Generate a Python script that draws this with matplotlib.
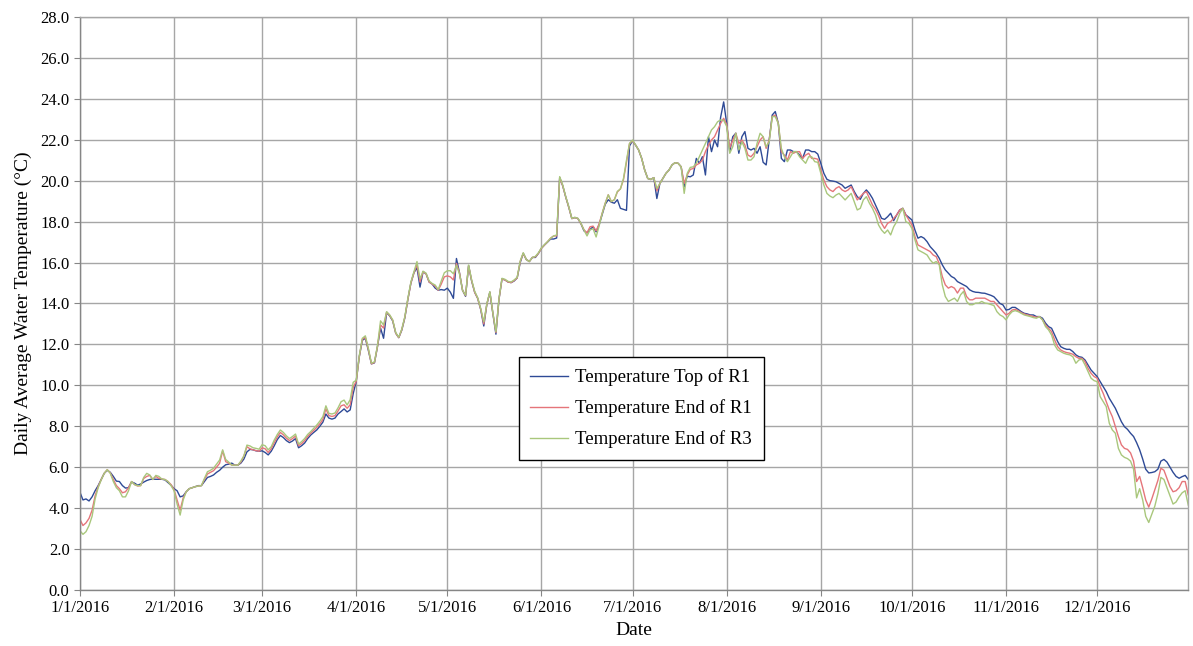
import numpy as np
import pandas as pd
import matplotlib
matplotlib.use("Agg")
import matplotlib.pyplot as plt
import matplotlib.dates as mdates
from matplotlib.ticker import FormatStrFormatter, FuncFormatter

# daily values for 2016 (leap year, 366 days)
dates = pd.date_range("2016-01-01", "2016-12-31", freq="D")

top_r1 = [
    4.78, 4.40, 4.45, 4.35, 4.55, 4.85, 5.10, 5.40, 5.70, 5.85, 5.75, 5.55, 5.32, 5.30, 5.10, 4.98, 5.00, 5.28, 5.22, 5.12, 5.18, 5.27, 5.35, 5.40, 5.42, 5.41, 5.41, 5.41, 5.38, 5.25, 5.12,
    4.95, 4.85, 4.55, 4.60, 4.80, 4.95, 5.00, 5.05, 5.10, 5.10, 5.30, 5.50, 5.55, 5.62, 5.75, 5.85, 6.00, 6.12, 6.15, 6.20, 6.10, 6.10, 6.20, 6.40, 6.75, 6.87, 6.85, 6.80, 6.78,
    6.80, 6.72, 6.60, 6.78, 7.05, 7.35, 7.55, 7.45, 7.30, 7.20, 7.28, 7.40, 6.95, 7.05, 7.18, 7.40, 7.57, 7.70, 7.82, 8.00, 8.20, 8.60, 8.40, 8.35, 8.40, 8.60, 8.72, 8.85, 8.70, 8.80, 9.60,
    10.20, 11.40, 12.20, 12.30, 11.70, 11.05, 11.10, 11.90, 12.80, 12.30, 13.55, 13.40, 13.15, 12.55, 12.33, 12.70, 13.30, 14.20, 15.00, 15.50, 15.75, 14.80, 15.55, 15.45, 15.05, 14.95, 14.75, 14.65, 14.68, 14.65,
    14.75, 14.55, 14.25, 16.20, 15.50, 14.65, 14.35, 15.85, 15.10, 14.55, 14.25, 13.70, 12.90, 13.95, 14.55, 13.50, 12.50, 14.20, 15.20, 15.15, 15.05, 15.02, 15.10, 15.25, 16.00, 16.45, 16.15, 16.05, 16.25, 16.25, 16.45,
    16.70, 16.86, 17.00, 17.15, 17.15, 17.20, 20.15, 19.75, 19.20, 18.70, 18.15, 18.20, 18.15, 17.90, 17.55, 17.45, 17.62, 17.75, 17.50, 17.85, 18.35, 18.85, 19.07, 18.95, 18.90, 19.07, 18.65, 18.60, 18.55, 21.70,
    21.95, 21.74, 21.50, 21.09, 20.52, 20.11, 20.06, 20.15, 19.13, 19.87, 20.11, 20.36, 20.52, 20.77, 20.88, 20.85, 20.68, 19.70, 20.22, 20.19, 20.28, 21.09, 20.85, 21.17, 20.28, 22.15, 21.42, 21.99, 21.66, 23.10, 23.85,
    22.80, 21.42, 22.15, 22.32, 21.34, 22.15, 22.40, 21.58, 21.50, 21.58, 21.34, 21.66, 20.90, 20.77, 21.99, 23.21, 23.38, 22.80, 21.09, 20.93, 21.50, 21.50, 21.42, 21.42, 21.25, 21.09, 21.50, 21.50, 21.42, 21.42, 21.30,
    20.85, 20.36, 20.07, 20.00, 19.98, 19.95, 19.87, 19.79, 19.63, 19.71, 19.79, 19.47, 19.22, 19.09, 19.38, 19.55, 19.38, 19.14, 18.82, 18.49, 18.16, 18.11, 18.24, 18.41, 18.05, 18.33, 18.57, 18.65, 18.33, 18.21,
    18.08, 17.59, 17.19, 17.27, 17.19, 17.02, 16.78, 16.62, 16.45, 16.21, 15.89, 15.64, 15.48, 15.32, 15.24, 15.07, 14.99, 14.91, 14.83, 14.67, 14.59, 14.55, 14.54, 14.51, 14.50, 14.45, 14.40, 14.33, 14.17, 14.00, 13.93,
    13.68, 13.71, 13.81, 13.81, 13.71, 13.60, 13.52, 13.49, 13.44, 13.44, 13.36, 13.36, 13.28, 13.04, 12.87, 12.79, 12.46, 12.14, 11.89, 11.81, 11.76, 11.76, 11.65, 11.49, 11.40, 11.37, 11.24, 11.00, 10.75, 10.59,
    10.43, 10.18, 9.94, 9.69, 9.37, 9.12, 8.88, 8.55, 8.22, 7.98, 7.85, 7.66, 7.50, 7.20, 6.85, 6.40, 5.90, 5.72, 5.74, 5.78, 5.90, 6.30, 6.38, 6.25, 6.00, 5.75, 5.55, 5.46, 5.54, 5.60, 5.40,
]

end_r1 = [
    3.45, 3.15, 3.28, 3.50, 3.90, 4.60, 5.05, 5.40, 5.70, 5.88, 5.72, 5.40, 5.10, 4.95, 4.75, 4.80, 5.00, 5.30, 5.15, 5.08, 5.10, 5.45, 5.55, 5.60, 5.40, 5.55, 5.45, 5.42, 5.40, 5.30, 5.15,
    4.90, 4.40, 3.90, 4.50, 4.80, 4.95, 5.00, 5.05, 5.08, 5.10, 5.40, 5.67, 5.75, 5.83, 6.00, 6.19, 6.80, 6.27, 6.20, 6.10, 6.10, 6.10, 6.25, 6.55, 7.00, 6.90, 6.85, 6.81, 6.78,
    6.95, 6.90, 6.72, 6.90, 7.20, 7.48, 7.70, 7.58, 7.42, 7.30, 7.40, 7.52, 7.05, 7.15, 7.30, 7.50, 7.66, 7.80, 7.95, 8.12, 8.33, 8.85, 8.52, 8.48, 8.52, 8.75, 9.00, 9.05, 8.88, 9.05, 9.90,
    10.20, 11.40, 12.25, 12.35, 11.75, 11.05, 11.12, 11.90, 12.95, 12.80, 13.58, 13.42, 13.18, 12.55, 12.33, 12.72, 13.32, 14.20, 15.00, 15.50, 15.90, 15.05, 15.55, 15.45, 15.05, 14.95, 14.85, 14.65, 14.95, 15.30,
    15.35, 15.30, 15.15, 15.96, 15.50, 14.65, 14.38, 15.85, 15.12, 14.55, 14.25, 13.72, 13.00, 13.95, 14.55, 13.52, 12.58, 14.20, 15.20, 15.15, 15.05, 15.02, 15.12, 15.25, 16.05, 16.45, 16.15, 16.05, 16.25, 16.28, 16.45,
    16.70, 16.86, 17.02, 17.19, 17.30, 17.30, 20.15, 19.75, 19.20, 18.70, 18.15, 18.20, 18.15, 17.90, 17.60, 17.45, 17.75, 17.78, 17.55, 17.90, 18.41, 18.90, 19.31, 18.98, 19.07, 19.45, 19.60, 20.05, 20.90, 21.82,
    21.95, 21.74, 21.50, 21.09, 20.52, 20.11, 20.06, 20.15, 19.50, 19.87, 20.11, 20.36, 20.52, 20.77, 20.88, 20.85, 20.68, 19.87, 20.28, 20.55, 20.60, 20.77, 20.85, 21.01, 21.42, 21.74, 21.99, 22.15, 22.48, 22.80, 23.05,
    22.75, 21.60, 21.99, 22.32, 21.82, 21.99, 21.74, 21.25, 21.17, 21.34, 21.66, 21.99, 22.15, 21.58, 21.99, 23.13, 23.21, 22.80, 21.42, 21.25, 21.01, 21.42, 21.34, 21.42, 21.42, 21.09, 21.25, 21.34, 21.09, 21.09, 21.05,
    20.52, 20.03, 19.71, 19.55, 19.47, 19.63, 19.71, 19.55, 19.47, 19.55, 19.71, 19.38, 19.06, 19.22, 19.38, 19.47, 19.14, 18.82, 18.60, 18.30, 17.92, 17.67, 17.92, 18.00, 18.16, 18.33, 18.57, 18.65, 18.33, 18.08,
    17.84, 17.27, 16.86, 16.78, 16.70, 16.62, 16.54, 16.37, 16.29, 15.95, 15.32, 14.91, 14.75, 14.83, 14.75, 14.51, 14.75, 14.75, 14.34, 14.18, 14.18, 14.26, 14.26, 14.26, 14.26, 14.18, 14.10, 14.10, 13.93, 13.77, 13.60,
    13.44, 13.52, 13.68, 13.71, 13.65, 13.55, 13.49, 13.44, 13.41, 13.36, 13.33, 13.36, 13.20, 12.95, 12.79, 12.62, 12.22, 11.89, 11.73, 11.65, 11.60, 11.57, 11.52, 11.40, 11.32, 11.32, 11.16, 10.83, 10.59, 10.43,
    10.35, 9.94, 9.61, 9.20, 8.80, 8.47, 7.98, 7.50, 7.09, 6.92, 6.87, 6.70, 6.30, 5.30, 5.55, 5.00, 4.40, 4.05, 4.45, 4.90, 5.35, 5.95, 5.85, 5.45, 5.05, 4.80, 4.85, 5.00, 5.30, 5.30, 4.65,
]

end_r3 = [
    2.90, 2.72, 2.85, 3.15, 3.60, 4.45, 5.00, 5.38, 5.70, 5.88, 5.70, 5.30, 5.00, 4.85, 4.55, 4.55, 4.85, 5.30, 5.15, 5.10, 5.10, 5.50, 5.70, 5.62, 5.40, 5.60, 5.55, 5.42, 5.40, 5.30, 5.10,
    4.85, 4.20, 3.66, 4.40, 4.80, 4.95, 5.00, 5.05, 5.08, 5.10, 5.45, 5.78, 5.85, 5.95, 6.15, 6.35, 6.85, 6.38, 6.25, 6.10, 6.10, 6.10, 6.30, 6.55, 7.08, 7.04, 6.95, 6.92, 6.88,
    7.10, 7.05, 6.85, 7.00, 7.33, 7.60, 7.82, 7.70, 7.53, 7.40, 7.50, 7.62, 7.13, 7.25, 7.40, 7.60, 7.74, 7.90, 8.06, 8.25, 8.47, 9.00, 8.63, 8.60, 8.65, 8.90, 9.20, 9.28, 9.04, 9.30, 10.15,
    10.25, 11.45, 12.30, 12.42, 11.80, 11.08, 11.15, 11.95, 13.15, 12.95, 13.60, 13.45, 13.20, 12.58, 12.35, 12.75, 13.35, 14.25, 15.05, 15.55, 16.05, 15.20, 15.58, 15.48, 15.10, 14.98, 14.90, 14.68, 15.10, 15.50,
    15.60, 15.60, 15.45, 15.88, 15.45, 14.65, 14.40, 15.88, 15.15, 14.60, 14.28, 13.75, 13.10, 13.98, 14.58, 13.55, 12.62, 14.22, 15.23, 15.18, 15.08, 15.05, 15.15, 15.28, 16.08, 16.48, 16.15, 16.05, 16.25, 16.30, 16.48,
    16.72, 16.88, 17.02, 17.19, 17.30, 17.35, 20.20, 19.79, 19.22, 18.73, 18.16, 18.21, 18.16, 17.92, 17.59, 17.30, 17.60, 17.65, 17.25, 17.80, 18.41, 18.90, 19.31, 18.98, 19.07, 19.48, 19.60, 20.10, 21.00, 21.82,
    21.99, 21.74, 21.50, 21.09, 20.52, 20.11, 20.06, 20.15, 19.62, 19.87, 20.11, 20.36, 20.52, 20.77, 20.88, 20.85, 20.68, 19.38, 20.36, 20.65, 20.68, 20.85, 21.17, 21.50, 21.82, 22.15, 22.48, 22.64, 22.88, 22.97, 22.95,
    22.65, 21.34, 21.66, 22.32, 21.50, 21.90, 21.58, 21.01, 21.01, 21.17, 21.82, 22.32, 22.15, 21.66, 21.90, 23.13, 23.13, 22.80, 21.58, 21.17, 20.93, 21.17, 21.42, 21.42, 21.17, 21.01, 20.85, 21.17, 21.17, 20.93, 20.90,
    20.36, 19.79, 19.38, 19.25, 19.17, 19.30, 19.38, 19.22, 19.06, 19.22, 19.38, 18.98, 18.57, 18.65, 19.06, 19.22, 18.90, 18.65, 18.33, 17.84, 17.59, 17.43, 17.59, 17.35, 17.75, 18.00, 18.41, 18.65, 18.00, 17.92,
    17.67, 17.11, 16.62, 16.54, 16.46, 16.37, 16.13, 15.97, 16.05, 15.89, 14.91, 14.34, 14.10, 14.18, 14.26, 14.10, 14.42, 14.59, 14.10, 13.94, 13.94, 14.02, 14.02, 14.10, 14.02, 14.00, 13.95, 13.90, 13.60, 13.44, 13.36,
    13.20, 13.44, 13.60, 13.65, 13.60, 13.52, 13.44, 13.40, 13.36, 13.31, 13.28, 13.36, 13.20, 12.87, 12.71, 12.46, 11.97, 11.73, 11.65, 11.57, 11.52, 11.49, 11.40, 11.08, 11.24, 11.28, 11.00, 10.67, 10.35, 10.23,
    10.18, 9.45, 9.20, 8.96, 8.15, 7.82, 7.66, 6.92, 6.60, 6.48, 6.42, 6.30, 5.90, 4.50, 4.95, 4.40, 3.60, 3.30, 3.70, 4.10, 4.70, 5.50, 5.40, 5.00, 4.60, 4.20, 4.30, 4.55, 4.75, 4.85, 4.15,
]

series = [top_r1, end_r1, end_r3]
labels = ["Temperature Top of R1", "Temperature End of R1", "Temperature End of R3"]
colors = ["#2E4A96", "#E5757A", "#A9C77C"]

plt.rcParams["font.family"] = ["Liberation Serif", "DejaVu Serif"]

fig = plt.figure(figsize=(11.93, 6.46), dpi=100)
ax = fig.add_axes([0.067, 0.0867, 0.929, 0.887])

# series drawn in order, so the R3 line ends up on top
for vals, lab, col in zip(series, labels, colors):
    ax.plot(dates, vals, color=col, lw=1.0, label=lab)

ax.set_xlim(dates[0], dates[-1])
ax.set_ylim(0, 28)
ax.set_yticks(np.arange(0, 28.1, 2))
ax.yaxis.set_major_formatter(FormatStrFormatter("%.1f"))
ax.xaxis.set_major_locator(mdates.MonthLocator())

def date_fmt(x, pos):
    d = mdates.num2date(x)
    return f"{d.month}/{d.day}/{d.year}"

ax.xaxis.set_major_formatter(FuncFormatter(date_fmt))

ax.grid(True, color="#A6A6A6", lw=1.0)
ax.set_axisbelow(True)
for s in ax.spines.values():
    s.set_color("#A6A6A6")
    s.set_linewidth(1.0)
ax.spines["left"].set_color("#868686")
ax.spines["bottom"].set_color("#868686")
ax.tick_params(axis="both", labelsize=12, colors="black", length=4, color="#868686")

ax.set_xlabel("Date", fontsize=14, labelpad=4)
ax.set_ylabel("Daily Average Water Temperature (\u00b0C)", fontsize=14, labelpad=6)

leg = ax.legend(loc="upper left", bbox_to_anchor=(0.396, 0.407),
                fontsize=13.5, frameon=True, fancybox=False, framealpha=1,
                edgecolor="black", handlelength=2.0, handletextpad=0.4,
                labelspacing=0.7, borderpad=0.62, borderaxespad=0)
leg.get_frame().set_linewidth(1.0)

fig.savefig("out.png", dpi=100)
